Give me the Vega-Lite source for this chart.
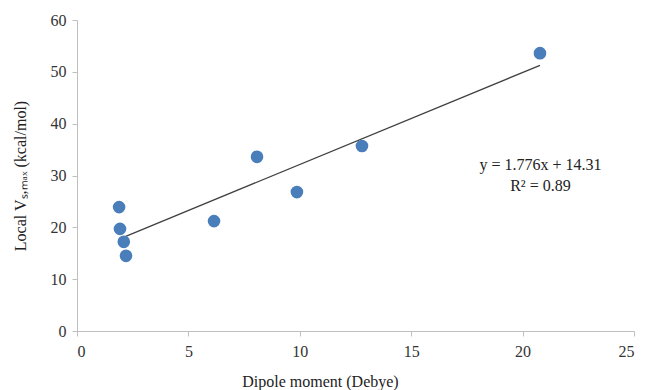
{
  "$schema": "https://vega.github.io/schema/vega-lite/v6.json",
  "width": 557,
  "height": 311,
  "autosize": "none",
  "padding": {"left": 77, "top": 20, "right": 15, "bottom": 59},
  "background": "white",
  "config": {
    "view": {"stroke": null},
    "font": "Liberation Serif, Times New Roman, serif",
    "axis": {
      "grid": false,
      "domainColor": "#bfbfbf",
      "tickColor": "#bfbfbf",
      "tickSize": 5,
      "labelFont": "Liberation Serif, Times New Roman, serif",
      "labelFontSize": 16,
      "labelColor": "#333333",
      "titleFont": "Liberation Serif, Times New Roman, serif",
      "titleFontSize": 16,
      "titleFontWeight": "normal",
      "titleColor": "#222222"
    }
  },
  "datasets": {
    "pts": [
      {"dipole": 20.78, "vs": 53.6},
      {"dipole": 8.08, "vs": 33.6},
      {"dipole": 12.79, "vs": 35.7},
      {"dipole": 9.87, "vs": 26.8},
      {"dipole": 6.15, "vs": 21.2},
      {"dipole": 1.89, "vs": 23.9},
      {"dipole": 1.93, "vs": 19.7},
      {"dipole": 2.1, "vs": 17.2},
      {"dipole": 2.2, "vs": 14.5}
    ],
    "ann": [
      {"dipole": 20.8, "vs": 32.0, "label": "y = 1.776x + 14.31"},
      {"dipole": 20.8, "vs": 27.9, "label": "R² = 0.89"}
    ]
  },
  "layer": [
    {
      "data": {"name": "pts"},
      "transform": [{"regression": "vs", "on": "dipole"}],
      "mark": {"type": "line", "color": "#404040", "strokeWidth": 1.3},
      "encoding": {
        "x": {"field": "dipole", "type": "quantitative"},
        "y": {"field": "vs", "type": "quantitative"}
      }
    },
    {
      "data": {"name": "pts"},
      "mark": {"type": "point", "filled": true, "size": 160, "color": "#4a7ebb", "opacity": 1},
      "encoding": {
        "x": {
          "field": "dipole", "type": "quantitative",
          "scale": {"domain": [0, 25], "nice": false},
          "axis": {"values": [0, 5, 10, 15, 20, 25], "title": "Dipole moment (Debye)", "titlePadding": 14, "titleX": 243, "labelPadding": 7}
        },
        "y": {
          "field": "vs", "type": "quantitative",
          "scale": {"domain": [0, 60], "nice": false},
          "axis": {"values": [0, 10, 20, 30, 40, 50, 60], "title": "Local Vₛ,ₘₐₓ (kcal/mol)", "titlePadding": 22, "labelPadding": 6}
        }
      }
    },
    {
      "data": {"name": "ann"},
      "mark": {"type": "text", "fontSize": 16, "font": "Liberation Serif, Times New Roman, serif", "color": "#222222", "align": "center"},
      "encoding": {
        "x": {"field": "dipole", "type": "quantitative"},
        "y": {"field": "vs", "type": "quantitative"},
        "text": {"field": "label"}
      }
    }
  ]
}
